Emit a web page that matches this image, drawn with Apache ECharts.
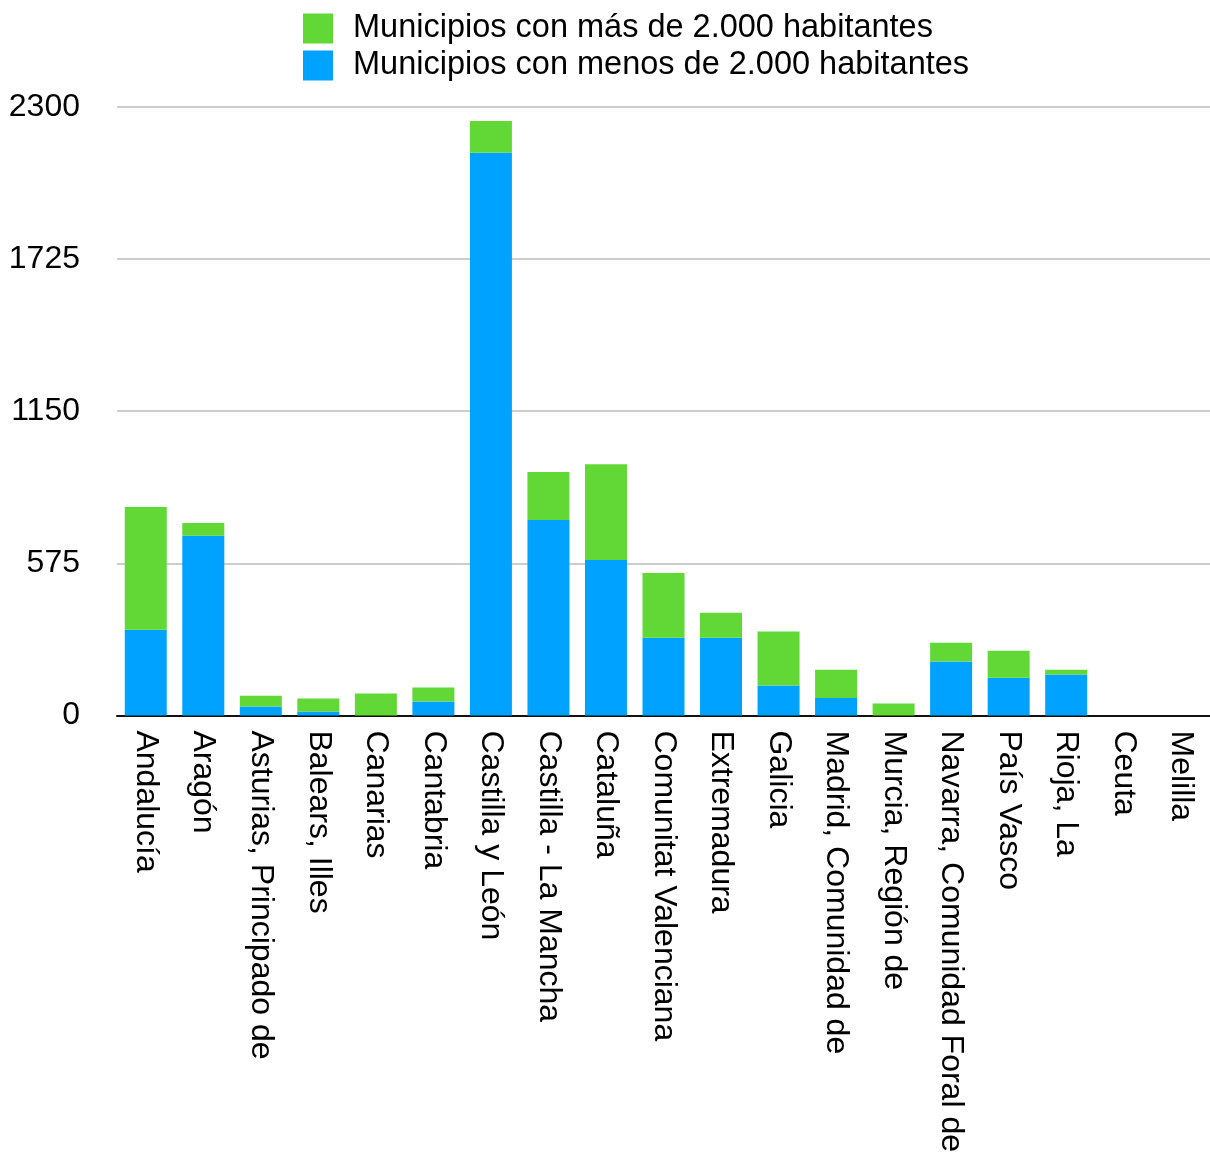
<!DOCTYPE html>
<html><head><meta charset="utf-8">
<script src="https://cdn.jsdelivr.net/npm/echarts@6/dist/echarts.min.js"></script>
<style>html,body{margin:0;padding:0;background:#fff}#c{width:1210px;height:1155px}</style>
</head><body><div id="c"></div>
<script>
const categories = ["Andalucía","Aragón","Asturias, Principado de","Balears, Illes","Canarias","Cantabria","Castilla y León","Castilla - La Mancha","Cataluña","Comunitat Valenciana","Extremadura","Galicia","Madrid, Comunidad de","Murcia, Región de","Navarra, Comunidad Foral de","País Vasco","Rioja, La","Ceuta","Melilla"];
const menos2000 = [324,679,34,15,0,53,2127,739,588,294,294,113,66,0,204,143,155,0,0];
const mas2000 = [464,49,41,49,83,53,120,181,362,245,94,204,107,45,71,102,18,0,0];
const yTicks = {min:0, max:2300, interval:575};
const seriesNames = ["Municipios con más de 2.000 habitantes","Municipios con menos de 2.000 habitantes"];

const font = "'Liberation Sans', Arial, sans-serif";
const chart = echarts.init(document.getElementById('c'));
chart.setOption({
  animation:false,
  legend:{orient:'vertical',left:303,top:12,padding:0,itemWidth:30,itemHeight:30,itemGap:4,icon:'rect',
    data:[seriesNames[0],seriesNames[1]],
    textStyle:{fontSize:32.5,fontFamily:font,color:'#000',padding:[0,0,0,15]}},
  grid:{left:117,right:0,top:107,bottom:438,containLabel:false},
  xAxis:{type:'category',data:categories,
    axisLine:{lineStyle:{color:'#111',width:2}},axisTick:{show:false},
    axisLabel:{rotate:-90,interval:0,fontSize:32,fontFamily:font,color:'#000',margin:15}},
  yAxis:{type:'value',min:yTicks.min,max:yTicks.max,interval:yTicks.interval,
    axisLine:{show:false},axisTick:{show:false},
    splitLine:{lineStyle:{color:'#bdbdbd',width:1.5}},
    axisLabel:{fontSize:32,fontFamily:font,color:'#000',margin:37,formatter:v=>String(v)}},
  series:[
    {name:seriesNames[1],type:'bar',stack:'a',data:menos2000,barWidth:42,itemStyle:{color:'#00A2FF'}},
    {name:seriesNames[0],type:'bar',stack:'a',data:mas2000,barWidth:42,itemStyle:{color:'#61D836'}}
  ]
});
</script></body></html>
